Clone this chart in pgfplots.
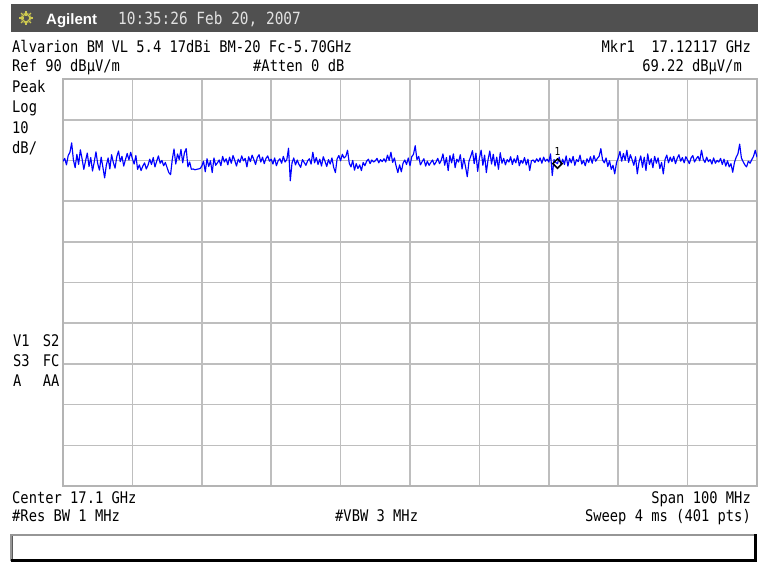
\documentclass[border=0pt]{standalone}
\usepackage{pgfplots}
\pgfplotsset{compat=1.18}
\usepackage{pgfplotstable}
\usetikzlibrary{calc}
\usepackage{fontspec}
\setmainfont{DejaVu Sans Mono}
\newfontfamily\sa[FakeStretch=0.86]{DejaVu Sans Mono}
\newfontfamily\boldsans{Liberation Sans}
\definecolor{bar}{RGB}{80,80,80}
\definecolor{gridgray}{RGB}{190,190,190}
\definecolor{framegray}{RGB}{180,180,180}
\definecolor{timegray}{RGB}{225,225,225}
\definecolor{sun}{RGB}{205,200,80}
\definecolor{trace}{RGB}{0,0,255}
\definecolor{boxgray}{RGB}{150,150,150}
\definecolor{boxdark}{RGB}{90,90,90}
\newcommand{\T}{\sa\fontsize{16bp}{19bp}\selectfont}
\newcommand{\TT}{\sa\fontsize{16.8bp}{19bp}\selectfont}

\pgfplotstableread[row sep=\\, header=false]{
69.8\\ 70.5\\ 68.9\\ 71.2\\ 72.0\\ 74.3\\ 70.1\\ 68.2\\ 71.5\\ 69.0\\ 72.6\\ 70.4\\ 67.8\\ 69.9\\ 71.8\\ 68.5\\ 70.7\\ 67.4\\ 69.6\\ 72.1\\
69.2\\ 67.6\\ 70.8\\ 68.3\\ 65.7\\ 68.9\\ 70.6\\ 67.9\\ 71.4\\ 69.5\\ 68.1\\ 70.9\\ 72.3\\ 69.7\\ 71.0\\ 68.6\\ 70.2\\ 71.7\\ 70.1\\ 72.0\\
70.4\\ 69.1\\ 71.2\\ 67.8\\ 68.9\\ 67.5\\ 68.6\\ 69.4\\ 67.9\\ 68.8\\ 70.3\\ 69.0\\ 70.7\\ 68.4\\ 69.8\\ 71.1\\ 69.3\\ 70.0\\ 68.7\\ 69.5\\
68.2\\ 67.0\\ 66.5\\ 70.3\\ 72.8\\ 69.1\\ 71.6\\ 70.2\\ 72.7\\ 69.4\\ 71.9\\ 72.9\\ 68.4\\ 69.6\\ 67.8\\ 67.9\\ 67.7\\ 67.8\\ 67.9\\ 68.0\\
68.6\\ 69.8\\ 67.2\\ 70.4\\ 68.5\\ 69.9\\ 67.0\\ 70.6\\ 68.8\\ 69.4\\ 70.1\\ 68.7\\ 71.0\\ 69.6\\ 70.4\\ 68.9\\ 70.8\\ 69.3\\ 71.2\\ 70.0\\
68.6\\ 70.3\\ 69.5\\ 71.1\\ 69.9\\ 70.5\\ 68.4\\ 70.9\\ 69.7\\ 71.3\\ 70.2\\ 69.0\\ 70.7\\ 71.4\\ 69.6\\ 70.8\\ 69.2\\ 70.5\\ 71.1\\ 69.8\\
70.3\\ 69.1\\ 70.6\\ 68.7\\ 69.9\\ 70.4\\ 69.3\\ 71.0\\ 69.6\\ 70.2\\ 73.0\\ 65.0\\ 69.4\\ 70.6\\ 68.9\\ 70.1\\ 69.0\\ 68.3\\ 70.2\\ 69.5\\
68.8\\ 69.9\\ 70.4\\ 69.1\\ 72.0\\ 69.4\\ 70.7\\ 69.0\\ 70.3\\ 68.6\\ 70.9\\ 69.8\\ 68.5\\ 70.2\\ 69.1\\ 70.6\\ 68.3\\ 67.0\\ 70.4\\ 71.2\\
69.9\\ 71.5\\ 70.6\\ 71.0\\ 72.5\\ 69.3\\ 68.4\\ 70.0\\ 67.6\\ 69.2\\ 68.0\\ 68.9\\ 67.5\\ 69.5\\ 68.7\\ 69.8\\ 70.3\\ 69.2\\ 70.1\\ 69.6\\
69.9\\ 70.5\\ 69.4\\ 70.2\\ 69.7\\ 70.4\\ 69.6\\ 71.3\\ 70.0\\ 72.0\\ 69.5\\ 70.6\\ 68.6\\ 67.0\\ 68.9\\ 67.2\\ 69.3\\ 70.1\\ 69.0\\ 70.6\\
68.7\\ 70.9\\ 71.5\\ 73.6\\ 70.2\\ 71.0\\ 68.9\\ 69.7\\ 70.4\\ 68.6\\ 69.8\\ 68.8\\ 69.5\\ 70.1\\ 68.9\\ 69.6\\ 70.5\\ 69.2\\ 70.0\\ 71.6\\
68.8\\ 70.7\\ 67.5\\ 71.2\\ 69.4\\ 71.6\\ 68.2\\ 70.3\\ 69.6\\ 71.4\\ 67.9\\ 70.5\\ 68.5\\ 66.0\\ 69.8\\ 71.0\\ 72.4\\ 69.2\\ 71.8\\ 67.3\\
70.6\\ 72.5\\ 68.8\\ 71.3\\ 67.0\\ 70.2\\ 72.3\\ 69.1\\ 71.5\\ 68.6\\ 70.8\\ 67.8\\ 71.9\\ 69.3\\ 70.5\\ 68.9\\ 70.2\\ 69.6\\ 70.9\\ 69.0\\
70.4\\ 69.4\\ 71.2\\ 68.7\\ 70.0\\ 69.3\\ 70.7\\ 68.9\\ 70.3\\ 67.5\\ 69.9\\ 70.1\\ 69.5\\ 70.4\\ 69.7\\ 70.6\\ 69.3\\ 70.8\\ 69.8\\ 70.3\\
69.6\\ 71.6\\ 66.3\\ 70.2\\ 69.5\\ 69.2\\ 70.8\\ 68.9\\ 70.3\\ 69.0\\ 71.1\\ 68.6\\ 70.5\\ 69.4\\ 71.0\\ 68.8\\ 70.2\\ 69.7\\ 71.3\\ 69.1\\
70.0\\ 68.7\\ 70.4\\ 69.5\\ 70.9\\ 69.3\\ 71.2\\ 69.8\\ 70.5\\ 71.0\\ 72.9\\ 70.1\\ 69.4\\ 70.6\\ 68.5\\ 69.9\\ 67.8\\ 68.8\\ 66.7\\ 69.4\\
70.6\\ 72.2\\ 69.8\\ 71.7\\ 70.0\\ 72.5\\ 69.5\\ 71.4\\ 70.2\\ 68.8\\ 70.9\\ 66.7\\ 69.6\\ 71.1\\ 68.3\\ 70.8\\ 67.5\\ 71.6\\ 69.0\\ 70.4\\
68.2\\ 71.0\\ 69.3\\ 70.6\\ 68.0\\ 69.5\\ 66.7\\ 70.2\\ 71.3\\ 69.4\\ 70.8\\ 69.7\\ 71.0\\ 69.2\\ 70.5\\ 71.4\\ 69.8\\ 70.7\\ 69.4\\ 70.9\\
70.1\\ 69.2\\ 70.6\\ 71.2\\ 69.6\\ 70.4\\ 71.0\\ 69.9\\ 72.5\\ 70.3\\ 69.5\\ 70.8\\ 69.7\\ 70.2\\ 69.1\\ 70.6\\ 69.3\\ 70.0\\ 69.6\\ 70.5\\
69.0\\ 70.3\\ 68.6\\ 69.9\\ 68.4\\ 69.2\\ 67.1\\ 69.5\\ 70.8\\ 71.6\\ 74.0\\ 70.6\\ 69.7\\ 68.9\\ 68.4\\ 69.8\\ 69.3\\ 70.2\\ 71.0\\ 72.5\\ 70.8\\
}\trace

\begin{document}
\begin{tikzpicture}
\fill[white] (0,0) rectangle (758bp,-562bp);
\path[use as bounding box] (0,0) rectangle (758bp,-562bp);
\begin{scope}[x=1bp,y=-1bp]
  % header bar
  \fill[bar] (11,4) rectangle (758,32);
  \foreach \a in {0,45,...,315} {
    \draw[sun, line width=1.3bp] ($(26,18)+(\a:2.5)$) -- ($(26,18)+(\a:7)$);
  }
  \foreach \a in {22.5,67.5,...,337.5} {
    \draw[sun, line width=0.9bp] ($(26,18)+(\a:3)$) -- ($(26,18)+(\a:5.5)$);
  }
  \node[anchor=base west, inner sep=0, text=white] at (46,24.5) {\boldsans\fontsize{15bp}{18bp}\selectfont\bfseries Agilent};
  \node[anchor=base west, inner sep=0, text=timegray] at (118,24) {\TT 10:35:26 Feb 20, 2007};
  % top annotation
  \node[anchor=base west, inner sep=0] at (12,52.5) {\T Alvarion BM VL 5.4 17dBi BM-20 Fc-5.70GHz};
  \node[anchor=base west, inner sep=0] at (12,71) {\T Ref 90 dBµV/m};
  \node[anchor=base west, inner sep=0] at (253,71) {\T \#Atten 0 dB};
  \node[anchor=base east, inner sep=0] at (751,52.5) {\T Mkr1\ \ 17.12117 GHz};
  \node[anchor=base east, inner sep=0] at (742,71) {\T 69.22 dBµV/m};
  % left annotation
  \node[anchor=base west, inner sep=0] at (12,92.7) {\T Peak};
  \node[anchor=base west, inner sep=0] at (12,112.7) {\T Log};
  \node[anchor=base west, inner sep=0] at (12,133) {\T 10};
  \node[anchor=base west, inner sep=0] at (12,153) {\T dB/};
  \node[anchor=base west, inner sep=0] at (13,346) {\T V1};
  \node[anchor=base west, inner sep=0] at (42.7,346) {\T S2};
  \node[anchor=base west, inner sep=0] at (13,366) {\T S3};
  \node[anchor=base west, inner sep=0] at (42.7,366) {\T FC};
  \node[anchor=base west, inner sep=0] at (13,386.5) {\T A};
  \node[anchor=base west, inner sep=0] at (42.7,386.5) {\T AA};
  % bottom annotation
  \node[anchor=base west, inner sep=0] at (12,503.5) {\T Center 17.1 GHz};
  \node[anchor=base west, inner sep=0] at (12,521.7) {\T \#Res BW 1 MHz};
  \node[anchor=base west, inner sep=0] at (335,521.7) {\T \#VBW 3 MHz};
  \node[anchor=base east, inner sep=0] at (751,503.5) {\T Span 100 MHz};
  \node[anchor=base east, inner sep=0] at (751,521.7) {\T Sweep 4 ms (401 pts)};
  % bottom box
  \fill[white] (12,534) rectangle (755,560);
  \draw[line width=2bp, boxgray] (11,561) -- (11,534.5) -- (756,534.5);
  \draw[line width=1bp, boxdark] (12.5,560) -- (12.5,536);
  \draw[line width=3bp, black] (11,560) -- (755,560) -- (755,534);
\end{scope}
\begin{axis}[
  at={(63bp,-79bp)}, anchor=north west,
  width=694bp, height=407bp, scale only axis,
  xmin=0, xmax=400, ymin=-10, ymax=90,
  xtick={40,80,...,360}, ytick={0,10,...,80},
  xticklabels={}, yticklabels={},
  major tick length=0pt, tick style={draw=none},
  grid=major,
  major grid style={draw=gridgray, line width=1.6bp},
  axis line style={draw=framegray, line width=2bp},
]
\addplot[trace, line width=1.15bp, line join=round] table[x expr=\coordindex, y index=0] {\trace};
\addplot[only marks, mark=square, mark size=3.3bp,
  mark options={draw=black, fill=white, line width=1.5bp, rotate=45},
  nodes near coords={1},
  every node near coord/.style={anchor=south, yshift=4bp, font=\sa\fontsize{11bp}{12bp}\selectfont, text=black}]
  coordinates {(285,69.22)};
\end{axis}
\end{tikzpicture}
\end{document}
